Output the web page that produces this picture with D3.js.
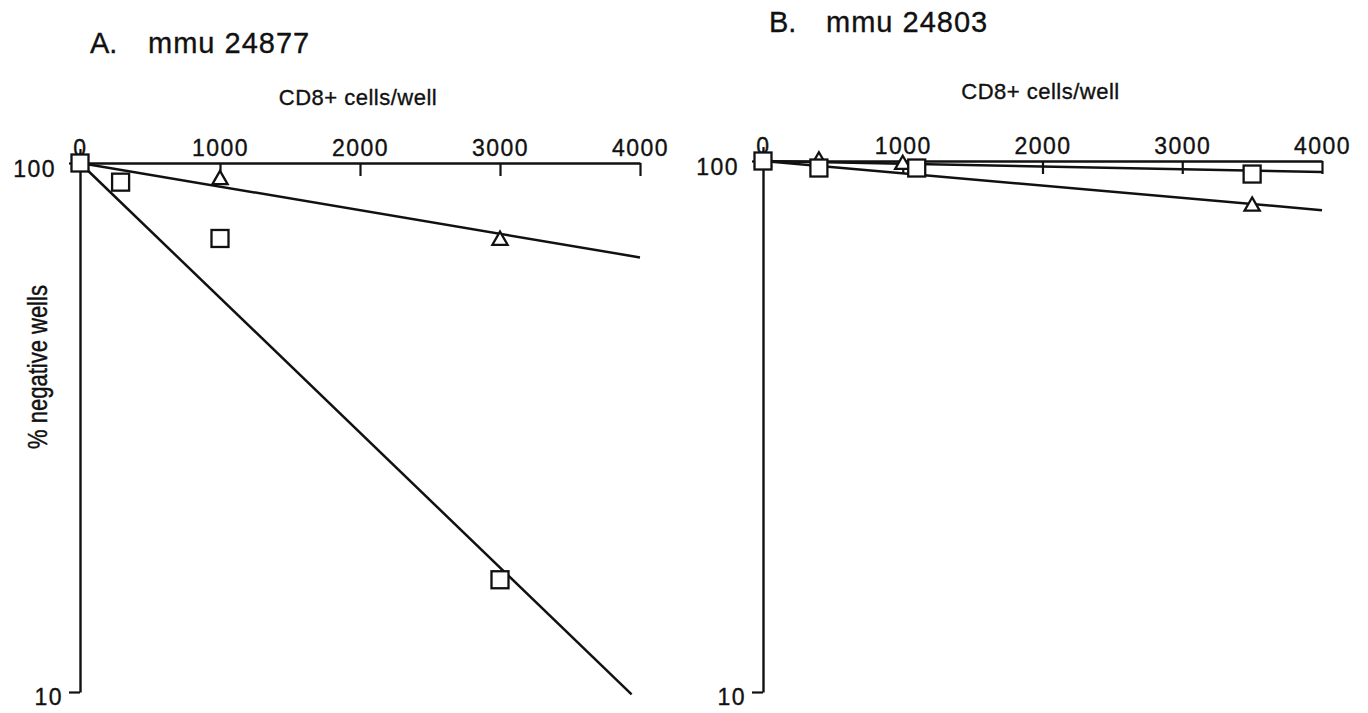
<!DOCTYPE html>
<html>
<head>
<meta charset="utf-8">
<script src="https://cdn.jsdelivr.net/npm/d3@7/dist/d3.min.js"></script>
<style>
  html, body { margin: 0; padding: 0; background: #fff; }
  svg { display: block; }
  text { font-family: "Liberation Sans", Arial, Helvetica, sans-serif; fill: #111; stroke: #111; stroke-width: 0.35px; }
</style>
</head>
<body>
<svg id="chart" width="1368" height="713"></svg>
<script>
// ---------- data ----------
const xTickValues = [0, 1000, 2000, 3000, 4000];
const yTickValues = [100, 10];
const xAxisTitle = "CD8+ cells/well";
const yAxisTitle = "% negative wells";

const panelLetters = ["A.", "B."];
const panelNames = ["mmu 24877", "mmu 24803"];

// Panel A (mmu 24877)
const aSquareX = [0, 290, 1000, 3000];
const aSquareY = [100, 92, 72, 16.3];
const aTriangleX = [0, 1000, 3000];
const aTriangleY = [100, 93, 71.4];
const aSquareFitX = [0, 3940];
const aSquareFitY = [100, 9.9];
const aTriangleFitX = [0, 4000];
const aTriangleFitY = [100, 66.3];

// Panel B (mmu 24803)
const bSquareX = [0, 400, 1100, 3500];
const bSquareY = [100, 97, 97, 94.5];
const bTriangleX = [0, 400, 1000, 3500];
const bTriangleY = [100, 100, 98.5, 82.2];
const bSquareFitX = [0, 4000];
const bSquareFitY = [100, 95.3];
const bTriangleFitX = [0, 4000];
const bTriangleFitY = [100, 80.8];

const zip = (xs, ys) => xs.map((x, i) => ({x, y: ys[i]}));

const panels = [
  {
    letter: panelLetters[0], name: panelNames[0],
    left: 80, right: 640, top: 163, bottom: 692,
    titleX: 90, nameX: 148, titleY: 53,
    xTitleY: 105,
    squares: zip(aSquareX, aSquareY),
    triangles: zip(aTriangleX, aTriangleY),
    fits: [zip(aSquareFitX, aSquareFitY), zip(aTriangleFitX, aTriangleFitY)],
    showYTitle: true
  },
  {
    letter: panelLetters[1], name: panelNames[1],
    left: 763, right: 1322, top: 161, bottom: 692,
    titleX: 769, nameX: 826, titleY: 32,
    xTitleY: 99,
    squares: zip(bSquareX, bSquareY),
    triangles: zip(bTriangleX, bTriangleY),
    fits: [zip(bSquareFitX, bSquareFitY), zip(bTriangleFitX, bTriangleFitY)],
    showYTitle: false
  }
];

const svg = d3.select("#chart");
const ink = "#111";

panels.forEach(p => {
  const x = d3.scaleLinear().domain([0, 4000]).range([p.left, p.right]);
  const y = d3.scaleLog().domain([10, 100]).range([p.bottom, p.top]);
  const g = svg.append("g");

  // titles
  g.append("text").attr("x", p.titleX).attr("y", p.titleY)
    .style("font-size", "29px").text(p.letter);
  g.append("text").attr("x", p.nameX).attr("y", p.titleY)
    .style("font-size", "29px").style("letter-spacing", "1px").text(p.name);

  // x-axis title
  g.append("text").attr("x", (p.left + p.right) / 2 - 2).attr("y", p.xTitleY)
    .attr("text-anchor", "middle").style("font-size", "22px").style("letter-spacing", "0.5px")
    .text(xAxisTitle);

  // top x axis
  const xAxis = d3.axisTop(x).tickValues(xTickValues).tickSizeInner(-13).tickSizeOuter(0)
    .tickPadding(7).tickFormat(d3.format("d"));
  const gx = g.append("g").attr("transform", `translate(0,${y(100)})`).call(xAxis);
  gx.select(".domain").attr("stroke", ink).attr("stroke-width", 2.4);
  gx.selectAll(".tick line").attr("stroke", ink).attr("stroke-width", 2.2)
    .attr("y2", d => d === 0 ? -14 : 13);
  gx.selectAll(".tick text").style("font-size", "23px").style("letter-spacing", "1.5px")
    .attr("fill", ink).attr("font-family", null);

  // left y axis
  const yAxis = d3.axisLeft(y).tickValues(yTickValues).tickSizeInner(11).tickSizeOuter(0)
    .tickPadding(8).tickFormat(d3.format("d"));
  const gy = g.append("g").attr("transform", `translate(${x(0)},0)`).call(yAxis);
  gy.select(".domain").attr("stroke", ink).attr("stroke-width", 2.4);
  gy.selectAll(".tick line").attr("stroke", ink).attr("stroke-width", 2.2);
  gy.selectAll(".tick text").style("font-size", "23px").style("letter-spacing", "1.5px")
    .attr("fill", ink).attr("font-family", null)
    .attr("x", d => d === 100 ? -24 : -17)
    .attr("dy", d => d === 10 ? "0.55em" : "0.6em");

  if (p.showYTitle) {
    g.append("text")
      .attr("transform", `translate(47,367) rotate(-90) scale(1,1.25)`)
      .attr("text-anchor", "middle").style("font-size", "22px").text(yAxisTitle);
  }

  // fitted lines
  const line = d3.line().x(d => x(d.x)).y(d => y(d.y));
  g.selectAll("path.fit").data(p.fits).join("path").attr("class", "fit")
    .attr("d", line).attr("fill", "none").attr("stroke", ink).attr("stroke-width", 2.5);

  // triangles
  const tri = d3.symbol().type(d3.symbolTriangle).size(100);
  g.selectAll("path.tri").data(p.triangles).join("path").attr("class", "tri")
    .attr("transform", d => `translate(${x(d.x)},${y(d.y)})`)
    .attr("d", tri).attr("fill", "#fff").attr("stroke", ink).attr("stroke-width", 2.3);

  // squares
  const s = 17;
  g.selectAll("rect.sq").data(p.squares).join("rect").attr("class", "sq")
    .attr("x", d => x(d.x) - s / 2).attr("y", d => y(d.y) - s / 2)
    .attr("width", s).attr("height", s)
    .attr("fill", "#fff").attr("stroke", ink).attr("stroke-width", 2.3);
});
</script>
</body>
</html>
